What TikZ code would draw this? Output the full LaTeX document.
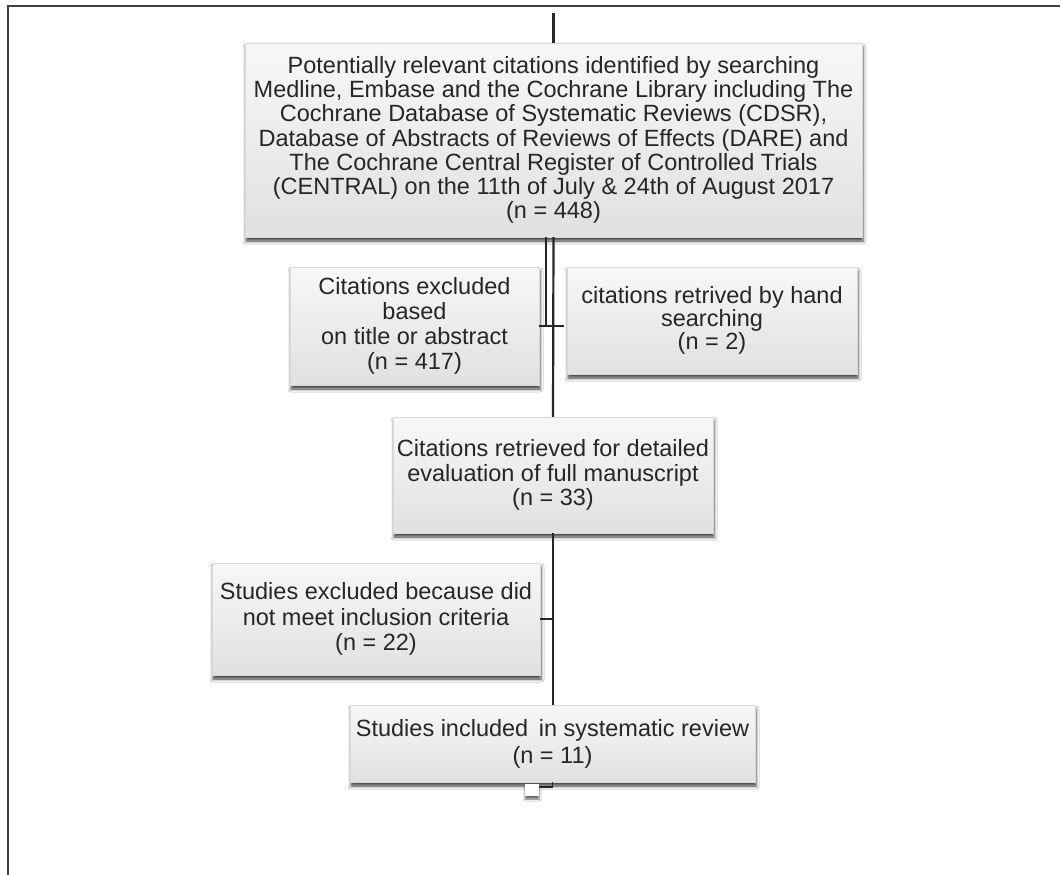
\documentclass[tikz,border=0pt]{standalone}
\usepackage{fontspec}
\setmainfont{Liberation Sans}
\usetikzlibrary{shadows.blur}
\tikzset{
  x=1pt,y=-1pt,
  box/.style={inner sep=0pt, align=center, top color=white!97!black, bottom color=gray!24,
    draw=gray!30, line width=0.4pt, text=black!85,
    blur shadow={shadow xshift=1pt, shadow yshift=-4pt, shadow blur radius=3pt, shadow opacity=75}},
  conn/.style={line width=2.2pt, black!85},
  frame/.style={line width=2.5pt, black!75},
}
\newcommand{\fsz}[1]{\fontsize{23.5}{#1}\selectfont}
\begin{document}
\begin{tikzpicture}
\useasboundingbox (0,0) rectangle (1060,875);
\fill[white] (0,0) rectangle (1060,875);
\coordinate (fa) at (8,875);
\coordinate (fb) at (8,6);
\coordinate (fc) at (1060,6);
\draw[frame] (fa) -- (fb) -- (fc);

\node[box, minimum width=617pt, minimum height=194pt, font=\fsz{24.2}] (top) at (553.5,140)
 {Potentially relevant citations identified by searching\\
  Medline, Embase and the Cochrane Library including The\\
  Cochrane Database of Systematic Reviews (CDSR),\\
  Database of Abstracts of Reviews of Effects (DARE) and\\
  The Cochrane Central Register of Controlled Trials\\
  (CENTRAL) on the 11th of July \& 24th of August 2017\\
  (n = 448)};

\node[box, minimum width=249pt, minimum height=118pt, font=\fsz{24.8}] (exc1) at (414.5,326)
 {Citations excluded\\ based\\ on title or abstract\\ (n = 417)};

\node[box, minimum width=290pt, minimum height=107pt, font=\fsz{23}, text depth=6pt] (hand) at (712,320.5)
 {citations retrived by hand\\ searching\\ (n = 2)};

\node[box, minimum width=320pt, minimum height=116pt, font=\fsz{24.2}] (mid) at (553,475)
 {Citations retrieved for detailed\\ evaluation of full manuscript\\ (n = 33)};

\node[box, minimum width=328pt, minimum height=112pt, font=\fsz{25.8}] (exc2) at (376,619)
 {Studies excluded because did\\ not meet inclusion criteria\\ (n = 22)};

\node[box, minimum width=405pt, minimum height=77pt, font=\fsz{27}] (incl) at (552.5,743.5)
 {Studies included\hspace{4pt} in systematic review\\ (n = 11)};

\coordinate (topin) at (553.5,13);
\draw[conn] (topin) -- (top.north);
\draw[conn] ([xshift=-7.5pt]top.south) -- ([xshift=-7.5pt]top.south |- exc1.east);
\coordinate (hj) at (564,326);
\draw[conn] (exc1.east) -- (hj);
\draw[conn] (top.south) -- (mid.north);
\draw[conn] (mid.south) -- (mid.south |- incl.north);
\draw[conn] (exc2.east) -- (exc2.east -| mid.south);

\node[inner sep=0pt, minimum width=14pt, minimum height=12pt, fill=white,
  blur shadow={shadow xshift=0pt, shadow yshift=-3pt, shadow blur radius=2pt, shadow opacity=60}] (sq) at (532,790) {};
\coordinate (hk) at (552.5,787);
\draw[conn, line width=1.6pt] (incl.south) -- (hk) -- (hk -| sq.east);
\end{tikzpicture}
\end{document}
